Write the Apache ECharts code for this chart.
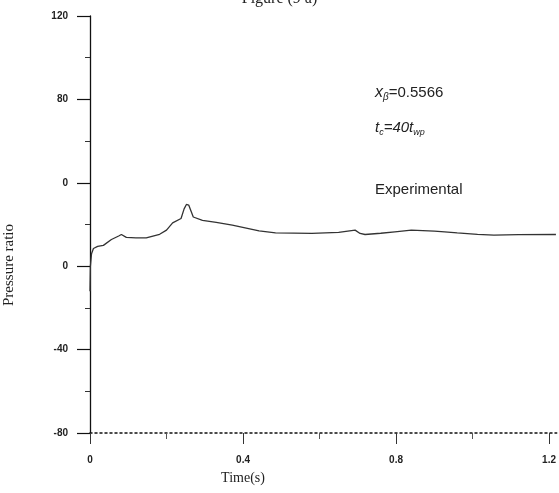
<!DOCTYPE html>
<html>
<head>
<meta charset="utf-8">
<title>Figure (9 a)</title>
<script src="https://cdn.jsdelivr.net/npm/echarts@6/dist/echarts.min.js"></script>
<style>
  html, body { margin: 0; padding: 0; background: #fff; }
  #chart { width: 559px; height: 493px; }
</style>
</head>
<body>
<div id="chart"></div>
<script>
// 时间 (s)
var timeValues = [0, 0.001, 0.004, 0.009, 0.02, 0.035, 0.056, 0.075, 0.082, 0.095,
  0.12, 0.147, 0.182, 0.2, 0.216, 0.238, 0.246, 0.252, 0.258, 0.264, 0.27, 0.294,
  0.33, 0.372, 0.442, 0.485, 0.58, 0.65, 0.693, 0.706, 0.719, 0.76, 0.797, 0.84,
  0.9, 0.927, 0.96, 1.013, 1.056, 1.12, 1.218];
// 压力比
var pressureValues = [-12, 0, 6, 8.5, 9.5, 10, 12.8, 14.5, 15.2, 13.8,
  13.6, 13.6, 15.3, 17.3, 20.8, 22.9, 27.5, 29.6, 29.3, 26.5, 23.6, 22,
  21, 19.7, 16.9, 16, 15.7, 16.2, 17.3, 15.7, 15.2, 15.8, 16.5, 17.3,
  16.8, 16.5, 16, 15.3, 14.9, 15.1, 15.2];
// 坐标轴刻度
var yTicks = [-80, -40, 0, 40, 80, 120];
var yTickText = { '-80': '-80', '-40': '-40', '0': '0', '40': '0', '80': '80', '120': '120' };
var xTicks = [0, 0.4, 0.8, 1.2];
var xEnd = 1.22; // 曲线延伸到图右边缘

var chart = echarts.init(document.getElementById('chart'));

var points = timeValues.map(function (t, i) { return [t, pressureValues[i]]; });

var tickFont = { fontFamily: 'Liberation Sans, Arial, sans-serif', fontSize: 10, fontWeight: 'bold', color: '#222' };

chart.setOption({
  animation: false,
  grid: { left: 90, right: -1, top: 16, bottom: 60 },
  xAxis: {
    type: 'value',
    min: xTicks[0],
    max: xEnd,
    interval: 0.4,
    axisLine: { onZero: false, lineStyle: { color: '#111', width: 1.5, type: [2, 3] } },
    axisTick: { inside: false, length: 11, customValues: xTicks, lineStyle: { color: '#333', width: 1 } },
    minorTick: { show: true, splitNumber: 2, length: 6, lineStyle: { color: '#555' } },
    splitLine: { show: false },
    axisLabel: Object.assign({ margin: 22, customValues: xTicks }, tickFont)
  },
  yAxis: {
    type: 'value',
    min: yTicks[0],
    max: yTicks[yTicks.length - 1],
    interval: 40,
    axisLine: { show: true, lineStyle: { color: '#111', width: 1.3 } },
    axisTick: { show: true, length: 13, lineStyle: { color: '#111', width: 1.2 } },
    minorTick: { show: true, splitNumber: 2, length: 5, lineStyle: { color: '#333' } },
    splitLine: { show: false },
    axisLabel: Object.assign({
      margin: 22,
      formatter: function (v) { return yTickText[String(v)]; }
    }, tickFont)
  },
  series: [{
    type: 'line',
    data: points,
    showSymbol: false,
    lineStyle: { color: '#333', width: 1.3 }
  }],
  graphic: [
    { type: 'text', left: 'center', top: -9,
      style: { text: 'Figure (9 a)', font: '16px "Liberation Serif", serif', fill: '#222' } },
    { type: 'text', x: 9, y: 265, rotation: Math.PI / 2,
      style: { text: 'Pressure ratio', font: '15px "Liberation Serif", serif', fill: '#222',
               align: 'center', verticalAlign: 'middle' } },
    { type: 'text', x: 243, y: 478,
      style: { text: 'Time(s)', font: '14px "Liberation Serif", serif', fill: '#222',
               align: 'center', verticalAlign: 'middle' } },
    { type: 'text', x: 375, y: 93,
      style: {
        text: '{i|x}{s|\u03B2}{n|=0.5566}',
        verticalAlign: 'middle',
        rich: {
          i: { font: 'italic 16px "Liberation Sans", Arial, sans-serif', fill: '#222' },
          s: { font: 'italic 10px "Liberation Sans", Arial, sans-serif', fill: '#222', padding: [8, 0, 0, 0] },
          n: { font: '15px "Liberation Sans", Arial, sans-serif', fill: '#222' }
        }
      } },
    { type: 'text', x: 375, y: 128,
      style: {
        text: '{i|t}{s|c}{i|=40t}{s|wp}',
        verticalAlign: 'middle',
        rich: {
          i: { font: 'italic 15px "Liberation Sans", Arial, sans-serif', fill: '#222' },
          s: { font: 'italic 9px "Liberation Sans", Arial, sans-serif', fill: '#222', padding: [8, 0, 0, 0] }
        }
      } },
    { type: 'text', x: 375, y: 190,
      style: { text: 'Experimental', font: '15px "Liberation Sans", Arial, sans-serif', fill: '#222',
               verticalAlign: 'middle' } }
  ]
});

window.addEventListener('resize', function () { chart.resize(); });
</script>
</body>
</html>
